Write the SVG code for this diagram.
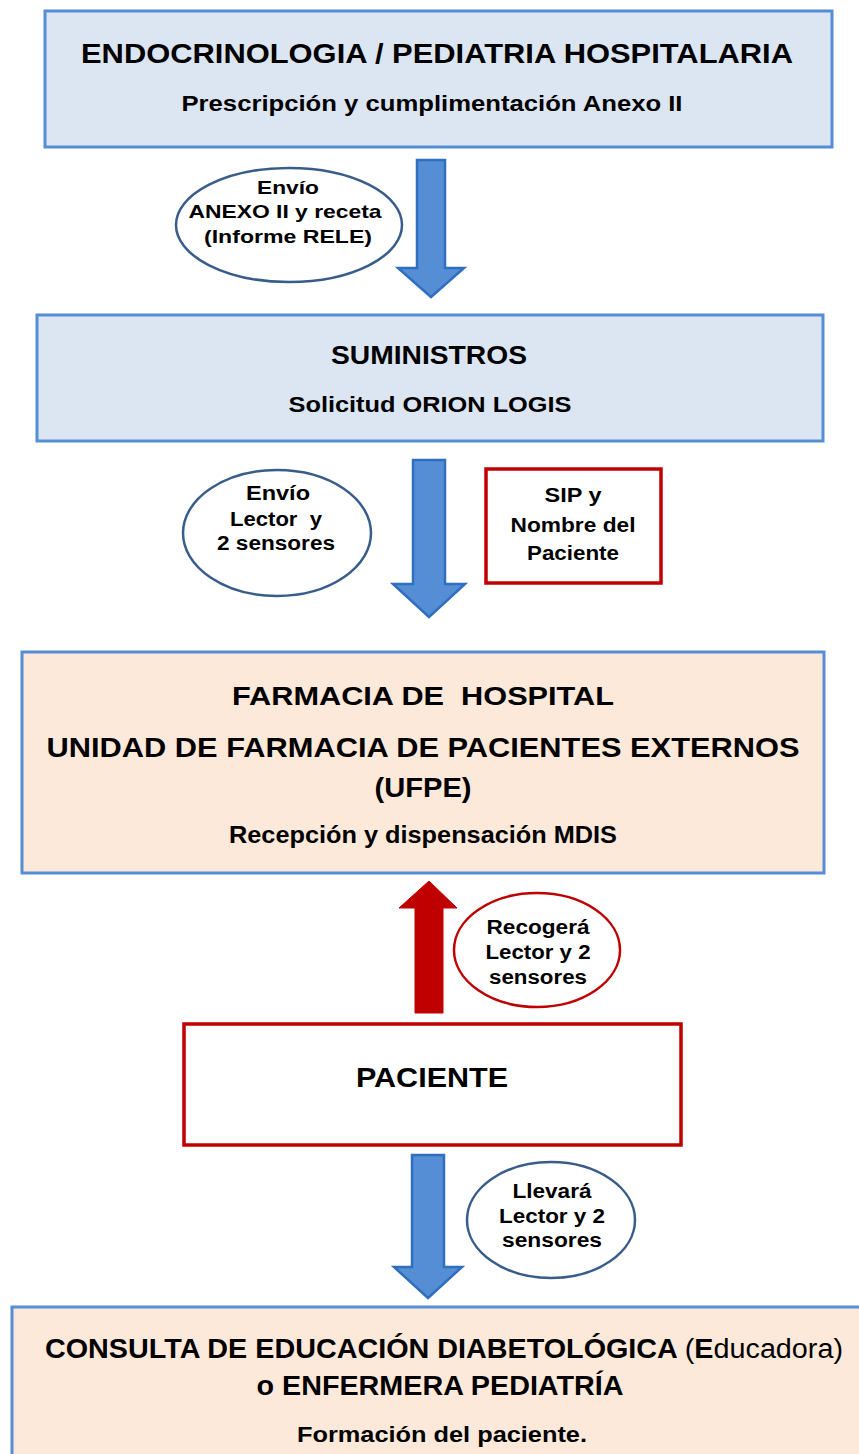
<svg xmlns="http://www.w3.org/2000/svg" width="859" height="1454" viewBox="0 0 859 1454">
<style>
text{font-family:"Liberation Sans",Arial,sans-serif;font-weight:bold;fill:#000;text-anchor:middle}
.bbox{fill:#dce6f2;stroke:#558ed5;stroke-width:3}
.obox{fill:#fde9d9;stroke:#558ed5;stroke-width:3}
.rbox{fill:#fff;stroke:#c00000;stroke-width:3.5}
.bell{fill:#fff;stroke:#385d8a;stroke-width:2.5}
.rell{fill:#fff;stroke:#c00000;stroke-width:2.5}
.barrow{fill:#558ed5;stroke:#2f6fc0;stroke-width:2.5}
.rarrow{fill:#c00000;stroke:#c00000;stroke-width:1}
.n{font-weight:normal}
</style>
<rect width="859" height="1454" fill="#fff"/>
<g id="connectors">
<polygon class="barrow" points="417,160 445,160 445,268 464,268 431,297 398,268 417,268"/>
<polygon class="barrow" points="413,460 445,460 445,584 465,584 429,617 393,584 413,584"/>
<polygon class="rarrow" points="415,1013 443,1013 443,908 457,908 429,881 399,908 415,908"/>
<polygon class="barrow" points="412,1155 444,1155 444,1267 462,1267 428,1298 394,1267 412,1267"/>
</g>
<g id="endocrinologia">
<rect class="bbox" x="45" y="11" width="787" height="136"/>
<text x="437" y="63" font-size="28" textLength="712" lengthAdjust="spacingAndGlyphs">ENDOCRINOLOGIA / PEDIATRIA HOSPITALARIA</text>
<text x="432" y="111" font-size="22" textLength="501" lengthAdjust="spacingAndGlyphs">Prescripción y cumplimentación Anexo II</text>
</g>
<g id="label-envio-anexo">
<ellipse class="bell" cx="289" cy="225" rx="113" ry="57"/>
<text x="288" y="194" font-size="19" textLength="62" lengthAdjust="spacingAndGlyphs">Envío</text>
<text x="285" y="218" font-size="19" textLength="193" lengthAdjust="spacingAndGlyphs">ANEXO II y receta</text>
<text x="288" y="243" font-size="19" textLength="168" lengthAdjust="spacingAndGlyphs">(Informe RELE)</text>
</g>
<g id="suministros">
<rect class="bbox" x="37" y="315" width="786" height="126"/>
<text x="429" y="364" font-size="25" textLength="196" lengthAdjust="spacingAndGlyphs">SUMINISTROS</text>
<text x="430" y="412" font-size="22" textLength="283" lengthAdjust="spacingAndGlyphs">Solicitud ORION LOGIS</text>
</g>
<g id="label-envio-lector">
<ellipse class="bell" cx="277" cy="533" rx="94" ry="63"/>
<text x="278" y="500" font-size="20" textLength="64" lengthAdjust="spacingAndGlyphs">Envío</text>
<text x="276" y="526" font-size="20" textLength="92" lengthAdjust="spacingAndGlyphs" xml:space="preserve">Lector  y</text>
<text x="276" y="550" font-size="20" textLength="118" lengthAdjust="spacingAndGlyphs">2 sensores</text>
</g>
<g id="sip-nombre">
<rect class="rbox" x="486" y="469" width="175" height="114"/>
<text x="573" y="502" font-size="20" textLength="57" lengthAdjust="spacingAndGlyphs">SIP y</text>
<text x="573" y="532" font-size="20" textLength="125" lengthAdjust="spacingAndGlyphs">Nombre del</text>
<text x="573" y="560" font-size="20" textLength="92" lengthAdjust="spacingAndGlyphs">Paciente</text>
</g>
<g id="farmacia">
<rect class="obox" x="22" y="652" width="802" height="221"/>
<text x="423" y="705" font-size="25" textLength="382" lengthAdjust="spacingAndGlyphs" xml:space="preserve">FARMACIA DE  HOSPITAL</text>
<text x="423" y="757" font-size="28" textLength="753" lengthAdjust="spacingAndGlyphs">UNIDAD DE FARMACIA DE PACIENTES EXTERNOS</text>
<text x="423" y="797" font-size="28" textLength="97" lengthAdjust="spacingAndGlyphs">(UFPE)</text>
<text x="423" y="843" font-size="23" textLength="388" lengthAdjust="spacingAndGlyphs">Recepción y dispensación MDIS</text>
</g>
<g id="label-recogera">
<ellipse class="rell" cx="537" cy="950" rx="83" ry="57"/>
<text x="538" y="934" font-size="20" textLength="103" lengthAdjust="spacingAndGlyphs">Recogerá</text>
<text x="538" y="959" font-size="20" textLength="105" lengthAdjust="spacingAndGlyphs">Lector y 2</text>
<text x="538" y="984" font-size="20" textLength="98" lengthAdjust="spacingAndGlyphs">sensores</text>
</g>
<g id="paciente">
<rect class="rbox" x="184" y="1024" width="497" height="121"/>
<text x="432" y="1087" font-size="28" textLength="152" lengthAdjust="spacingAndGlyphs">PACIENTE</text>
</g>
<g id="label-llevara">
<ellipse class="bell" cx="551" cy="1220" rx="84" ry="58"/>
<text x="552" y="1198" font-size="20" textLength="79" lengthAdjust="spacingAndGlyphs">Llevará</text>
<text x="552" y="1223" font-size="20" textLength="106" lengthAdjust="spacingAndGlyphs">Lector y 2</text>
<text x="552" y="1247" font-size="20" textLength="100" lengthAdjust="spacingAndGlyphs">sensores</text>
</g>
<g id="consulta">
<rect class="obox" x="12" y="1307" width="860" height="160"/>
<text x="444" y="1358" font-size="27" textLength="798" lengthAdjust="spacingAndGlyphs">CONSULTA DE EDUCACIÓN DIABETOLÓGICA <tspan class="n">(</tspan>E<tspan class="n">ducadora)</tspan></text>
<text x="440" y="1395" font-size="27" textLength="367" lengthAdjust="spacingAndGlyphs">o ENFERMERA PEDIATRÍA</text>
<text x="442" y="1442" font-size="22" textLength="290" lengthAdjust="spacingAndGlyphs">Formación del paciente.</text>
</g>
</svg>
